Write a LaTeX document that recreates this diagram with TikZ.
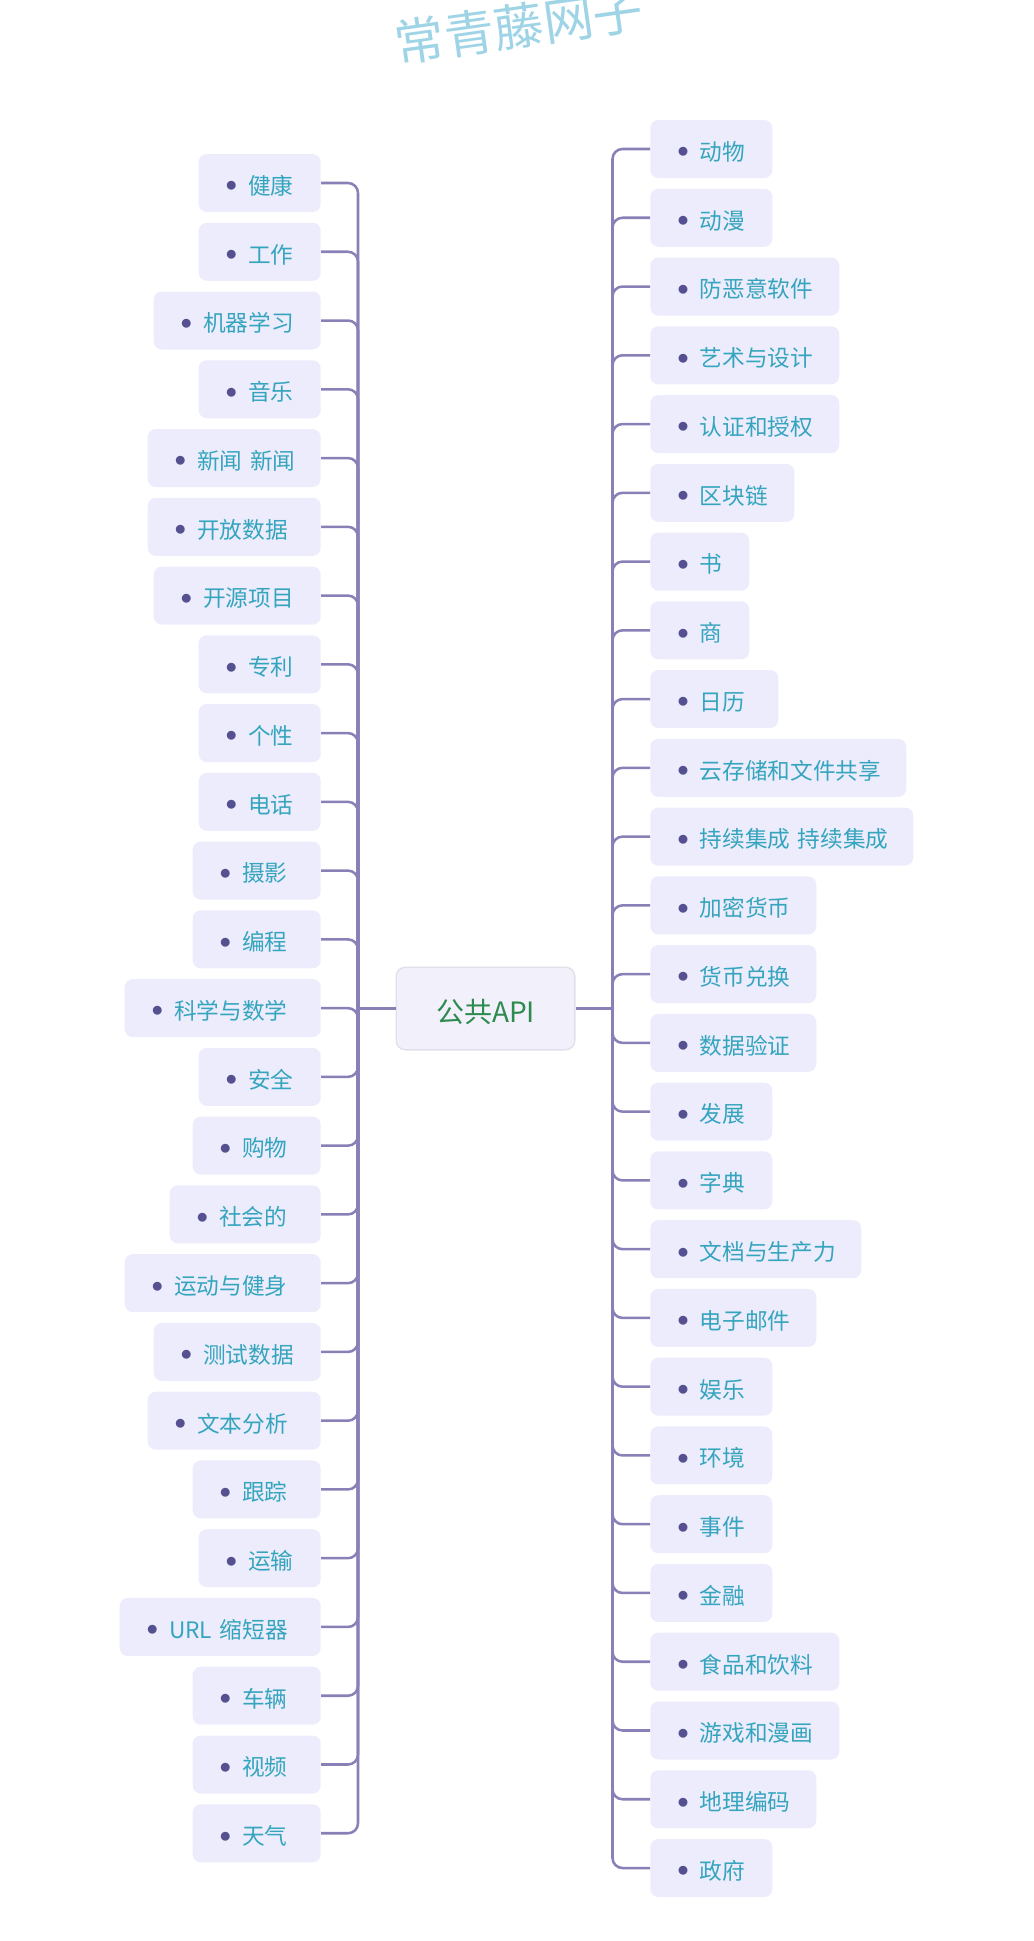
\documentclass[tikz,border=0pt]{standalone}
\usepackage{fontspec}
\setmainfont{Noto Sans CJK SC}
\usepackage{xcolor}
\definecolor{leafFill}{HTML}{ECECFD}
\definecolor{rootFill}{HTML}{F1F0FB}
\definecolor{rootEdge}{HTML}{E0E0EA}
\definecolor{rootText}{HTML}{2E8B4E}
\definecolor{leafText}{HTML}{35A5BE}
\definecolor{dotColor}{HTML}{55508F}
\definecolor{linkColor}{HTML}{8A80B8}
\definecolor{stampColor}{HTML}{9FD4E6}
\setlength{\unitlength}{0.75pt}
\newcommand{\leaflabel}[1]{\hspace*{27\unitlength}\makebox[22.5\unitlength][l]{\raisebox{2.5\unitlength}{\textcolor{dotColor}{$\bullet$}}}#1}
\tikzset{
	leaf/.style = {fill = leafFill, text = leafText, rounded corners = 6pt, inner xsep = 0pt, inner ysep = 0pt, minimum height = 43.5pt, text height = 19pt, text depth = 2pt, align = left, font = \fontsize{17}{20}\selectfont},
	link/.style = {draw = linkColor, line width = 1.9pt, rounded corners = 7.5pt}
}

\begin{document}
\begin{tikzpicture}[x = 0.75pt, y = 0.75pt]
	\def\yLEFT{183};
	\def\yRIGHT{149};
	\def\ySTEP{68.76};
	\def\xLEFT{321};
	\def\xRIGHT{650};

	\useasboundingbox (0,0) rectangle (1033,-1941);

	\node [rotate = 8, text = stampColor, font = \fontsize{37.5}{44}\selectfont] (stamp) at (519,-26) {常青藤网子};

	\node [fill = rootFill, draw = rootEdge, line width = 1pt, text = rootText, rounded corners = 7pt, inner ysep = 0pt, text height = 23.5pt, text depth = 3pt, minimum width = 134pt, minimum height = 62pt, font = \fontsize{21}{25}\selectfont] (root) at (485.5,-1008.5) {公共API};

	\coordinate (hubLeft) at (358,-1008.5);
	\coordinate (hubRight) at (612.5,-1008.5);
	\draw [link] (root.west) -- (hubLeft);
	\draw [link] (root.east) -- (hubRight);

	\foreach \i/\w/\t in {0/122/健康, 1/122/工作, 2/167/机器学习, 3/122/音乐, 4/173/新闻 新闻, 5/173/开放数据, 6/167/开源项目, 7/122/专利, 8/122/个性, 9/122/电话, 10/128/摄影, 11/128/编程, 12/196/科学与数学, 13/122/安全, 14/128/购物, 15/151/社会的, 16/196/运动与健身, 17/167/测试数据, 18/173/文本分析, 19/128/跟踪, 20/122/运输, 21/201/URL 缩短器, 22/128/车辆, 23/128/视频, 24/128/天气} {
		\node [leaf, anchor = east, text width = \w*0.75pt] (left\i) at (\xLEFT,{-\yLEFT-\ySTEP*\i}) {\leaflabel{\t}};
		\draw [link] (left\i.east) -| (hubLeft);
	}

	\foreach \i/\w/\t in {0/122/动物, 1/122/动漫, 2/189/防恶意软件, 3/189/艺术与设计, 4/189/认证和授权, 5/144/区块链, 6/99/书, 7/99/商, 8/128/日历, 9/256/云存储和文件共享, 10/263/持续集成 持续集成, 11/166/加密货币, 12/166/货币兑换, 13/166/数据验证, 14/122/发展, 15/122/字典, 16/211/文档与生产力, 17/166/电子邮件, 18/122/娱乐, 19/122/环境, 20/122/事件, 21/122/金融, 22/189/食品和饮料, 23/189/游戏和漫画, 24/166/地理编码, 25/122/政府} {
		\node [leaf, anchor = west, text width = \w*0.75pt] (right\i) at (\xRIGHT,{-\yRIGHT-\ySTEP*\i}) {\leaflabel{\t}};
		\draw [link] (right\i.west) -| (hubRight);
	}
\end{tikzpicture}
\end{document}
